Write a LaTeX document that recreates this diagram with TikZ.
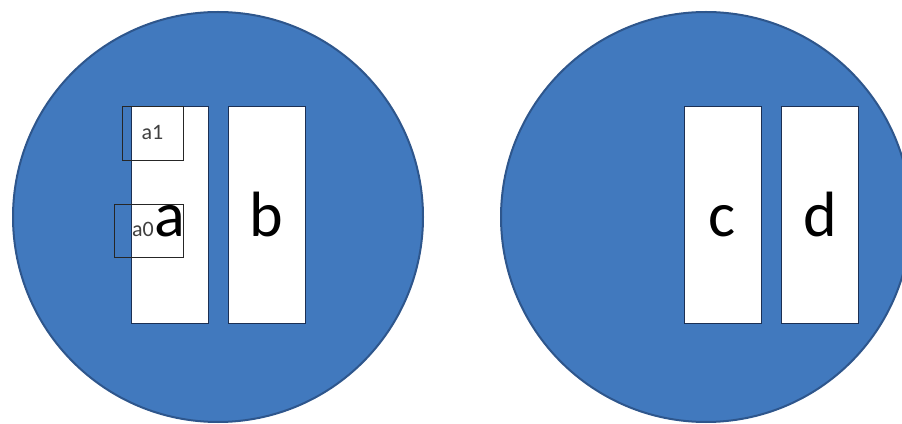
\documentclass[tikz,border=0pt]{standalone}
\usepackage{fontspec}
\setmainfont{Carlito}
\definecolor{discoazul}{RGB}{65,121,190}
\definecolor{bordadisco}{RGB}{46,86,140}
\definecolor{bordacoluna}{RGB}{28,48,84}

\begin{document}
\begin{tikzpicture}[x=1pt,y=1pt,
  disco/.style={fill=discoazul, draw=bordadisco, line width=2pt},
  coluna/.style={draw=bordacoluna, fill=white, line width=1pt,
    minimum width=77pt, minimum height=217pt, inner sep=0pt,
    text height=43pt, text depth=0pt, font=\fontsize{64}{70}\selectfont},
  marca/.style={draw=black!85, line width=0.8pt, inner sep=0pt,
    text depth=0pt, text=black!75, font=\fontsize{22}{24}\selectfont}]
  \useasboundingbox (0,0) rectangle (902,423);
  \clip (0,0) rectangle (902,423);

  % Discos.
  \path[disco] (218,206) circle (205);
  \path[disco] (706,206) circle (205);

  % Colunas.
  \node[coluna] (a) at (169.5,207.5) {a};
  \node[coluna] (b) at (266.5,207.5) {b};
  \node[coluna] (c) at (722.5,207.5) {c};
  \node[coluna] (d) at (820,207.5) {d};

  % Marcas sobre a coluna a.
  \node[marca, minimum width=61pt, minimum height=54pt, text height=14pt]
    (a1) at (152.5,290) {a1};
  \node[marca, minimum height=53pt, text height=13pt, text width=33pt,
    align=left, inner xsep=18pt] (a0) at (148.5,192.5) {a0};
\end{tikzpicture}
\end{document}
